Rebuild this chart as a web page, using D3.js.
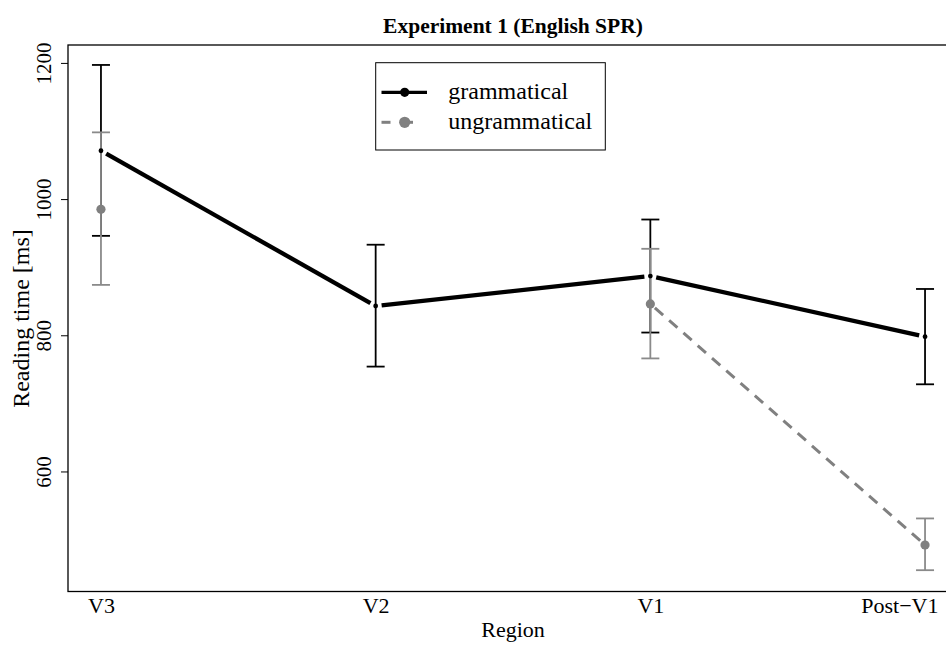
<!DOCTYPE html>
<html>
<head>
<meta charset="utf-8">
<script src="https://cdn.jsdelivr.net/npm/d3@7/dist/d3.min.js"></script>
<style>
  body { margin: 0; background: #fff; }
  svg { display: block; font-family: "Liberation Serif", "Times New Roman", serif; }
</style>
</head>
<body>
<svg id="chart" width="946" height="646"></svg>
<script>
// ---- data ----
const regions = ["V3", "V2", "V1", "Post\u2212V1"];
const gramMean = [1071, 843, 887, 798];
const gramLow  = [946, 754, 804, 728];
const gramHigh = [1197, 933, 970, 868];
const ungramMean = [985, null, 846, 492];
const ungramLow  = [874, null, 766, 455];
const ungramHigh = [1098, null, 927, 531];
const yTicks = [600, 800, 1000, 1200];
const seriesNames = ["grammatical", "ungrammatical"];

// ---- layout ----
const W = 946, H = 646;
const svg = d3.select("#chart");
const x = d3.scaleLinear().domain([0.88, 4.12]).range([68, 958]);
const y = d3.scaleLinear().domain([423.7, 1226.3]).range([591.5, 45]);

const blackCol = "#000";
const greyCol = "#808080";
const greyBar = "#8a8a8a";

// plot box
svg.append("rect")
  .attr("x", x(0.88)).attr("y", y(1226.3))
  .attr("width", x(4.12) - x(0.88)).attr("height", y(423.7) - y(1226.3))
  .attr("fill", "none").attr("stroke", "#000").attr("stroke-width", 1.3);

// y axis
const yAxis = d3.axisLeft(y).tickValues(yTicks).tickSize(7).tickPadding(0).tickFormat(d3.format("d"));
const gy = svg.append("g").attr("transform", `translate(${x(0.88)},0)`).call(yAxis);
gy.select(".domain").remove();
gy.selectAll(".tick line").attr("stroke", "#000").attr("stroke-width", 1);
gy.selectAll(".tick text")
  .attr("x", 0).attr("dy", null)
  .attr("transform", "translate(-17,0) rotate(-90)")
  .attr("text-anchor", "middle")
  .attr("font-size", 21)
  .attr("font-family", "Liberation Serif")
  .attr("fill", "#000");

// x labels (no ticks)
const xAxis = d3.axisBottom(x).tickValues([1, 2, 3, 4]).tickSize(0).tickPadding(0)
  .tickFormat((d, i) => regions[i]);
const gx = svg.append("g").attr("transform", `translate(0,${y(423.7)})`).call(xAxis);
gx.select(".domain").remove();
gx.selectAll(".tick text")
  .attr("y", 21).attr("dy", null)
  .attr("font-size", 22)
  .attr("font-family", "Liberation Serif")
  .attr("fill", "#000");
// keep the last label inside the picture, as in the reference
gx.selectAll(".tick text").filter((d, i) => i === regions.length - 1)
  .attr("text-anchor", "end").attr("x", (W - 8) - x(4));

// axis titles
svg.append("text").attr("x", 513).attr("y", 637).attr("text-anchor", "middle")
  .attr("font-size", 22).text("Region");
svg.append("text")
  .attr("transform", `translate(29,${318.5}) rotate(-90)`)
  .attr("text-anchor", "middle").attr("font-size", 24).text("Reading time [ms]");
svg.append("text").attr("x", 513).attr("y", 33).attr("text-anchor", "middle")
  .attr("font-size", 21.5).attr("font-weight", "bold").text("Experiment 1 (English SPR)");

// error bars
function errBars(mean, low, high, col, lw) {
  const g = svg.append("g");
  mean.forEach((m, i) => {
    if (m == null) return;
    const cx = x(i + 1);
    g.append("line").attr("x1", cx).attr("x2", cx).attr("y1", y(low[i])).attr("y2", y(high[i]))
      .attr("stroke", col).attr("stroke-width", lw);
    [low[i], high[i]].forEach(v => {
      g.append("line").attr("x1", cx - 9).attr("x2", cx + 9).attr("y1", y(v)).attr("y2", y(v))
        .attr("stroke", col).attr("stroke-width", lw);
    });
  });
}
errBars(gramMean, gramLow, gramHigh, blackCol, 1.8);
errBars(ungramMean, ungramLow, ungramHigh, greyBar, 1.8);

// lines type "b" (gaps near points)
function gappedLine(mean, col, lw, dash, gap) {
  const g = svg.append("g");
  for (let i = 0; i < mean.length - 1; i++) {
    if (mean[i] == null || mean[i + 1] == null) continue;
    const x1 = x(i + 1), y1 = y(mean[i]), x2 = x(i + 2), y2 = y(mean[i + 1]);
    const dx = x2 - x1, dy = y2 - y1, L = Math.hypot(dx, dy);
    const ux = dx / L, uy = dy / L;
    g.append("line")
      .attr("x1", x1 + ux * gap).attr("y1", y1 + uy * gap)
      .attr("x2", x2 - ux * gap).attr("y2", y2 - uy * gap)
      .attr("stroke", col).attr("stroke-width", lw)
      .attr("stroke-dasharray", dash).attr("stroke-linecap", "butt");
  }
}
gappedLine(gramMean, blackCol, 4.3, null, 6);
svg.append("g").selectAll("circle").data(gramMean.map((m, i) => [i, m]).filter(d => d[1] != null))
  .join("circle").attr("cx", d => x(d[0] + 1)).attr("cy", d => y(d[1])).attr("r", 2.4).attr("fill", blackCol);

gappedLine(ungramMean, greyCol, 3, "11,8", 6);
svg.append("g").selectAll("circle").data(ungramMean.map((m, i) => [i, m]).filter(d => d[1] != null))
  .join("circle").attr("cx", d => x(d[0] + 1)).attr("cy", d => y(d[1])).attr("r", 4.6).attr("fill", greyCol);

// legend
const lg = svg.append("g");
lg.append("rect").attr("x", 375.7).attr("y", 62.7).attr("width", 229.6).attr("height", 87.3)
  .attr("fill", "#fff").attr("stroke", "#000").attr("stroke-width", 1);
const legRows = [
  { name: seriesNames[0], col: blackCol, lw: 3.2, dash: false, r: 4.6, yy: 92.3 },
  { name: seriesNames[1], col: greyCol, lw: 3, dash: true, r: 5.6, yy: 122.3 }
];
legRows.forEach(d => {
  if (d.dash) {
    lg.append("line").attr("x1", 381.5).attr("x2", 390.5).attr("y1", d.yy).attr("y2", d.yy)
      .attr("stroke", d.col).attr("stroke-width", d.lw);
    lg.append("line").attr("x1", 404.7).attr("x2", 413).attr("y1", d.yy).attr("y2", d.yy)
      .attr("stroke", d.col).attr("stroke-width", d.lw);
  } else {
    lg.append("line").attr("x1", 381.5).attr("x2", 427).attr("y1", d.yy).attr("y2", d.yy)
      .attr("stroke", d.col).attr("stroke-width", d.lw);
  }
  lg.append("circle").attr("cx", 404.7).attr("cy", d.yy).attr("r", d.r).attr("fill", d.col);
  lg.append("text").attr("x", 448.3).attr("y", d.yy + 7).attr("font-size", 24).text(d.name);
});
</script>
</body>
</html>
